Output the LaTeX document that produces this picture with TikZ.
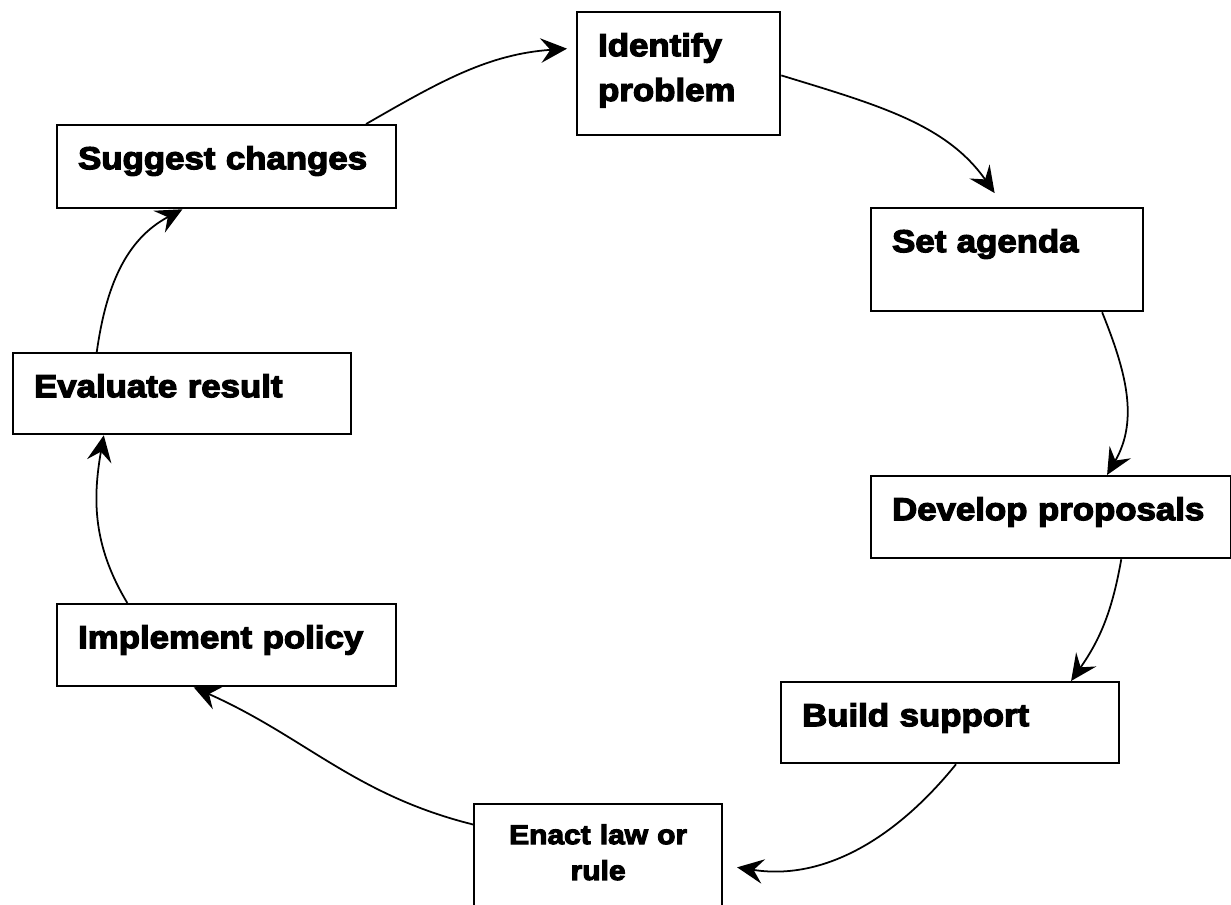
\documentclass[tikz,border=0pt]{standalone}
\usepackage{fontspec}
\newfontfamily\stagefont{Liberation Sans Bold}[FakeBold=4,FakeStretch=1.1]
\usetikzlibrary{arrows.meta}
\tikzstyle{stage} = [
rectangle,
anchor=north west,
draw=black,
line width=1.3pt,
inner xsep=0.42cm,
inner ysep=0.42cm,
text height=0.46cm,
align=left,
font=\stagefont\fontsize{18}{25.5}\selectfont
]
\tikzstyle{arrow} = [-{Stealth[length=15pt,width=14pt,inset=5.5pt]}, line width=1pt]

\begin{document}
\begin{tikzpicture}
      \useasboundingbox (0,0) rectangle (24.62,18.1);
      % the policy cycle, clockwise from the top
      \node (identify) [stage, text width=3.22cm, text depth=1.16cm] at (11.52,17.88) {Identify\\problem};
      \node (agenda) [stage, text width=4.60cm, text depth=0.76cm] at (17.4,13.96) {Set agenda};
      \node (develop) [stage, text width=6.36cm, text depth=0.34cm] at (17.4,8.6) {Develop proposals};
      \node (build) [stage, text width=5.92cm, text depth=0.32cm] at (15.6,4.48) {Build support};
      \node (enact) [stage, text width=4.12cm, text height=0.38cm, text depth=1.22cm, align=center,
            font=\stagefont\fontsize{15.5}{20.4}\selectfont] at (9.46,2.04) {Enact law or\\rule};
      \node (implement) [stage, text width=5.94cm, text depth=0.34cm] at (1.12,6.04) {Implement policy};
      \node (evaluate) [stage, text width=5.92cm, text depth=0.32cm] at (0.24,11.06) {Evaluate result};
      \node (suggest) [stage, text width=5.94cm, text depth=0.36cm] at (1.12,15.62) {Suggest changes};
      \draw [arrow, shorten >=0.18cm] (suggest.17.5) to[out=30, in=184] (identify.166);
      \draw [arrow, shorten >=0.34cm] (identify.-1) to[out=-17, in=125] (agenda.93);
      \draw [arrow] (agenda.-29) to[out=-68, in=60] (develop.37);
      \draw [arrow] (develop.-31) to[out=-100, in=55] (build.19.5);
      \draw [arrow, shorten >=0.28cm] (build.-82) to[out=-129, in=-9] (enact.east);
      \draw [arrow] (enact.162) to[out=166, in=-24] (implement.-128.6);
      \draw [arrow] (implement.157) to[out=121, in=-100] (evaluate.-152);
      \draw [arrow] (evaluate.154) to[out=82, in=208] (suggest.-136);
\end{tikzpicture}
\end{document}
